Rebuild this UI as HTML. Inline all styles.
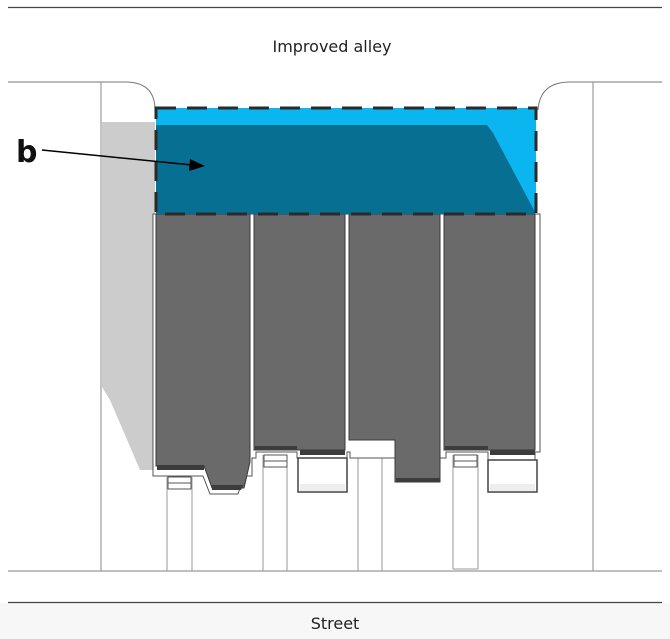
<!DOCTYPE html>
<html><head><style>
html,body{margin:0;padding:0;background:#fff;}
svg{display:block;}
text{font-family:"DejaVu Sans","Liberation Sans",sans-serif;}
</style></head><body>
<svg width="670" height="639" viewBox="0 0 670 639" xmlns="http://www.w3.org/2000/svg">
<rect x="0" y="603" width="670" height="36" fill="#f7f7f7"/>
<line x1="8" y1="7.5" x2="662" y2="7.5" stroke="#444" stroke-width="1.2"/>
<text x="332" y="52" font-size="16" text-anchor="middle" fill="#222">Improved alley</text>
<!-- lot lines -->
<path d="M8 82 H125 Q155 82 155 110" fill="none" stroke="#777" stroke-width="1"/>
<path d="M662 82 H570 Q540 82 538 110" fill="none" stroke="#777" stroke-width="1"/>
<line x1="101" y1="82" x2="101" y2="571" stroke="#888"/>
<line x1="593" y1="82" x2="593" y2="571" stroke="#888"/>
<line x1="8" y1="571" x2="662" y2="571" stroke="#999" stroke-width="1.2"/>
<line x1="8" y1="602.5" x2="662" y2="602.5" stroke="#444" stroke-width="1.2"/>
<text x="335" y="629" font-size="16" text-anchor="middle" fill="#222">Street</text>
<!-- left shadow -->
<path d="M102 122 H155 V470 H140 L110 400 L102 387 Z" fill="#cccccc"/>
<!-- driveways -->
<g stroke="#999" fill="none">
<line x1="167" y1="477" x2="167" y2="571"/><line x1="192" y1="477" x2="192" y2="571"/>
<line x1="263" y1="455" x2="263" y2="571"/><line x1="287" y1="455" x2="287" y2="571"/>
<line x1="358" y1="445" x2="358" y2="571"/><line x1="382" y1="445" x2="382" y2="571"/>
<line x1="453" y1="455" x2="453" y2="569"/><line x1="478" y1="455" x2="478" y2="569"/>
<line x1="453" y1="569" x2="478" y2="569"/>
</g>
<!-- steps -->
<g fill="#fff" stroke="#555" stroke-width="1">
<rect x="168" y="477" width="23" height="12"/><line x1="168" y1="483" x2="191" y2="483"/>
<rect x="264" y="455" width="23" height="12"/><line x1="264" y1="461" x2="287" y2="461"/>
<rect x="359" y="448" width="23" height="10"/>
<rect x="454" y="455" width="23" height="12"/><line x1="454" y1="461" x2="477" y2="461"/>
</g>
<!-- building outline -->
<path d="M153 214 H540 V452 H535 V460 H488 V452 H446 V458 H350 V452 H347 V458 H297 V452 H256 V458 H252 V476 H244 L238 494 H210 L203 476 H153 Z" fill="#fff" stroke="#555" stroke-width="1"/>
<!-- units -->
<g fill="#6a6a6a" stroke="#3a3a3a" stroke-width="1">
<path d="M156 214 H250 V462 L244 488 H212 L204 466 H156 Z"/>
<rect x="254" y="214" width="91" height="236"/>
<path d="M349 214 H440 V482 H395 V440 H349 Z"/>
<rect x="444" y="214" width="91" height="236"/>
</g>
<g fill="#3c3c3c">
<rect x="157" y="465" width="47" height="5"/>
<path d="M212 485 H244 L247 478 L241 490 H212Z"/>
<rect x="255" y="446" width="42" height="4"/>
<rect x="300" y="450" width="45" height="5"/>
<rect x="396" y="478" width="44" height="4"/>
<rect x="445" y="446" width="43" height="4"/>
<rect x="490" y="450" width="45" height="5"/>
</g>
<!-- garages -->
<g fill="#fff" stroke="#444" stroke-width="1.5">
<rect x="298" y="458" width="49" height="34"/>
<rect x="488" y="460" width="49" height="32"/>
</g>
<rect x="300" y="484" width="45" height="7" fill="#eee"/>
<rect x="490" y="484" width="45" height="7" fill="#eee"/>
<!-- blue zone -->
<rect x="156" y="108" width="380" height="106" fill="#0bb5f0"/>
<path d="M156 125 H487 L493 133 L535 212 V214 H156 Z" fill="#066f92"/>
<rect x="156" y="108" width="380" height="106" fill="none" stroke="#2a2a2a" stroke-width="3" stroke-dasharray="20 11"/>
<!-- label -->
<text x="16" y="162" font-size="30" font-weight="bold" fill="#111">b</text>
<line x1="42" y1="150" x2="192" y2="165" stroke="#000" stroke-width="1.5"/>
<path d="M205 166 L190 159 L189 171 Z" fill="#000"/>
</svg>
</body></html>
